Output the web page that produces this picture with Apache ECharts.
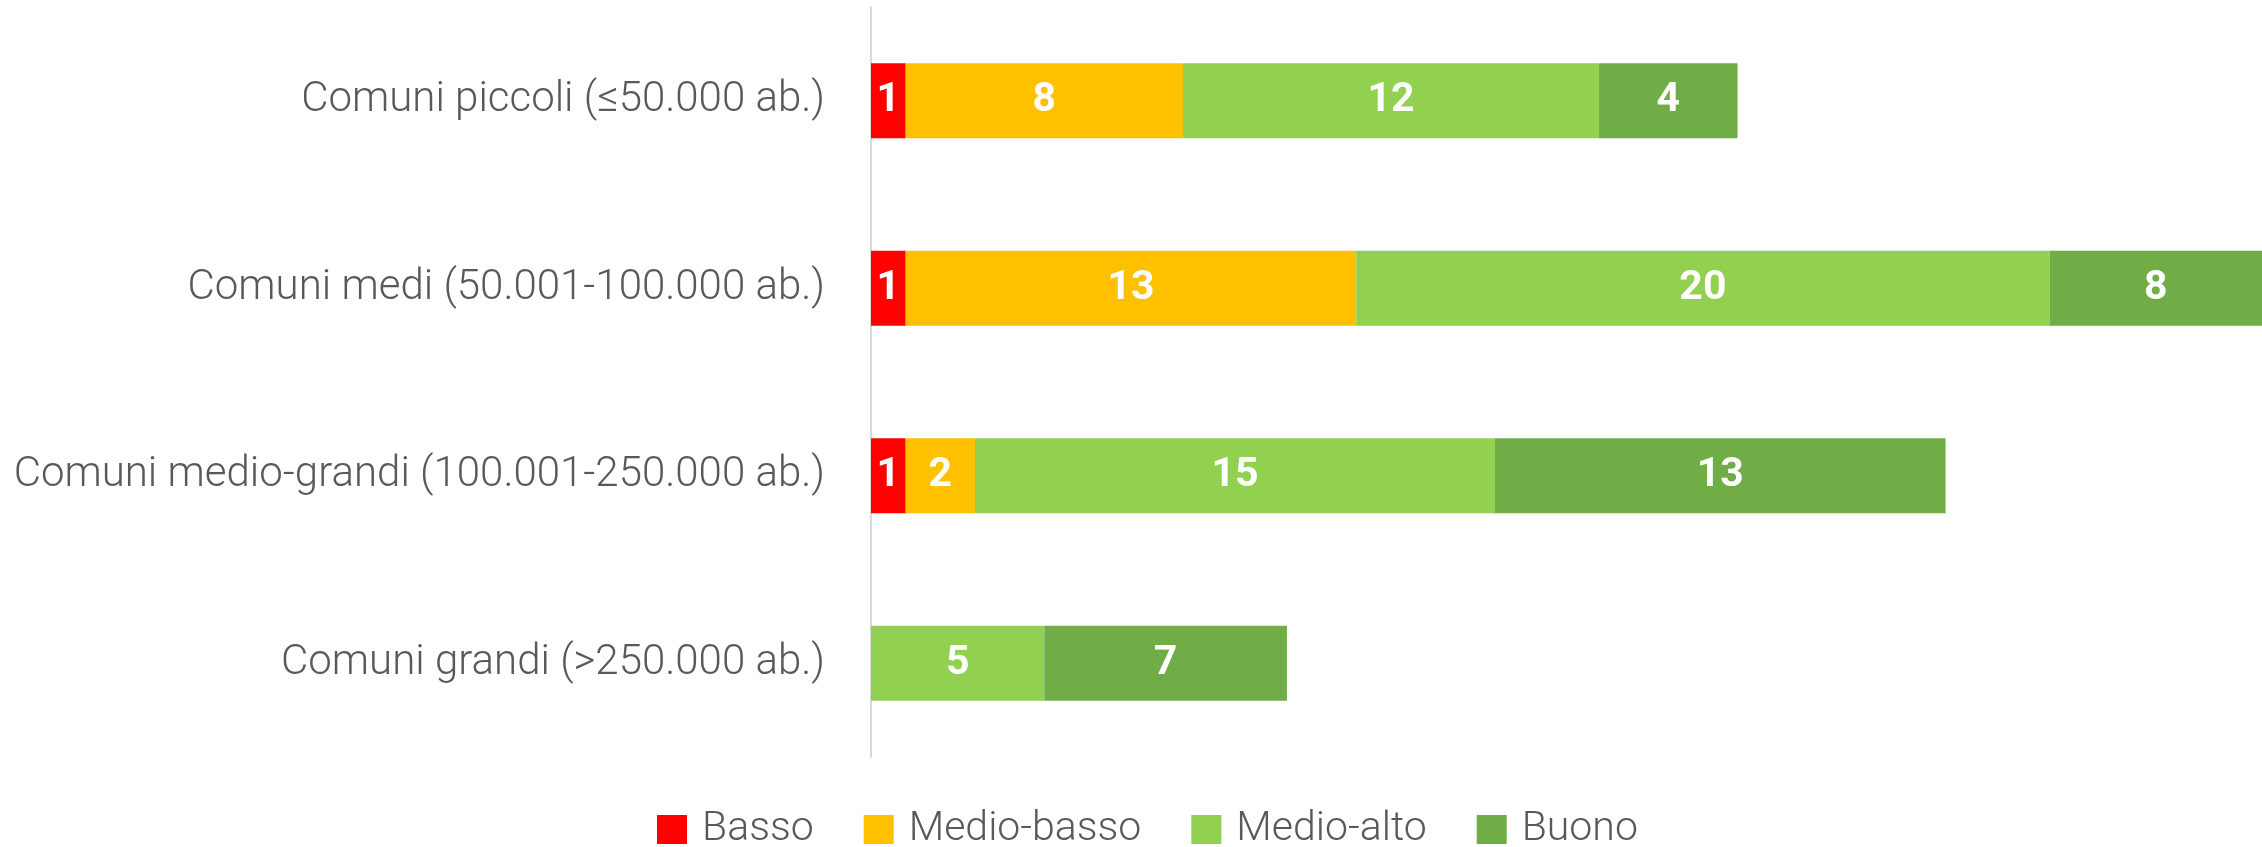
<!DOCTYPE html>
<html>
<head>
<meta charset="utf-8">
<script src="https://cdn.jsdelivr.net/npm/echarts@6/dist/echarts.min.js"></script>
<style>
  html, body { margin: 0; padding: 0; background: #fff; }
  #chart { width: 2262px; height: 847px; }
</style>
</head>
<body>
<div id="chart"></div>
<script>
// Distribution of municipalities by level, stacked per size class
const categories = [
  "Comuni piccoli (≤50.000 ab.)",
  "Comuni medi (50.001-100.000 ab.)",
  "Comuni medio-grandi (100.001-250.000 ab.)",
  "Comuni grandi (>250.000 ab.)"
];
const basso = [1, 1, 1, 0];
const medioBasso = [8, 13, 2, 0];
const medioAlto = [12, 20, 15, 5];
const buono = [4, 8, 13, 7];

const FONT = "'Liberation Sans Narrow', 'Roboto', sans-serif";

const levels = [
  { name: "Basso", data: basso, color: "#FF0000" },
  { name: "Medio-basso", data: medioBasso, color: "#FFC000" },
  { name: "Medio-alto", data: medioAlto, color: "#92D050" },
  { name: "Buono", data: buono, color: "#70AD47" }
];

const chart = echarts.init(document.getElementById("chart"), null, { renderer: "canvas" });

const option = {
  backgroundColor: "#fff",
  animation: false,
  grid: { left: 871, right: 0, top: 7, height: 750, containLabel: false },
  legend: {
    left: 652,
    top: 804,
    icon: "rect",
    itemWidth: 30,
    itemHeight: 29,
    itemGap: 50,
    textStyle: { color: "#595959", fontSize: 41, lineHeight: 29, fontFamily: FONT, fontWeight: 300, padding: [0, 0, 6, 10] },
    data: levels.map((l) => l.name)
  },
  xAxis: {
    type: "value",
    min: 0,
    max: 40.13,
    show: false
  },
  yAxis: {
    type: "category",
    inverse: true,
    data: categories,
    axisLine: { show: true, lineStyle: { color: "#d9d9d9", width: 2 } },
    axisTick: { show: false },
    axisLabel: { color: "#595959", fontSize: 42, fontFamily: FONT, fontWeight: 300, margin: 46, padding: [4, 0, 0, 0] }
  },
  series: levels.map((l) => ({
    name: l.name,
    type: "bar",
    stack: "total",
    clip: true,
    barWidth: 75,
    itemStyle: { color: l.color },
    label: {
      show: true,
      position: "inside",
      color: "#fff",
      fontSize: 41,
      fontWeight: "bold",
      fontFamily: FONT,
      formatter: (p) => (p.value ? p.value : "")
    },
    data: l.data.map((v) => (v === 0 ? "-" : v))
  }))
};

chart.setOption(option);
</script>
</body>
</html>
